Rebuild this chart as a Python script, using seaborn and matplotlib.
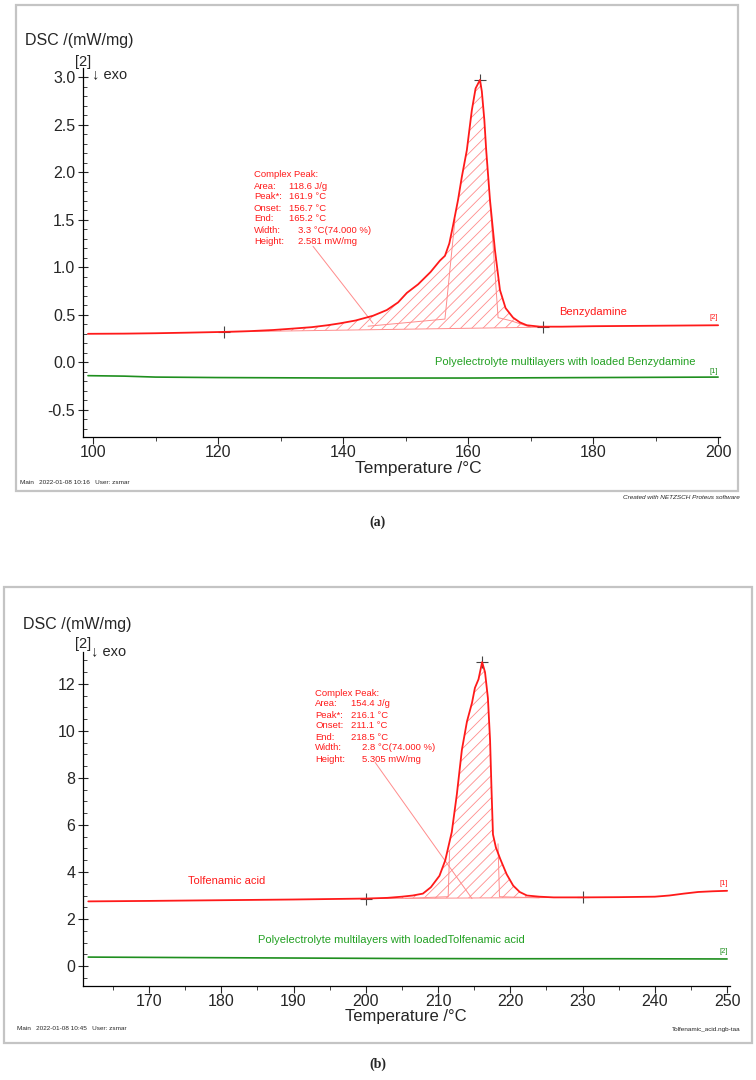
import numpy as np
import matplotlib.pyplot as plt
import matplotlib.ticker as mticker
from matplotlib.patches import Rectangle
import seaborn as sns

# ---- (a) Benzydamine ----
temp_a = [99.2, 105, 110, 115, 121, 125, 128.8, 132, 135, 137.5, 139.5, 142, 144.8, 147, 148.8,
          150.2, 152, 154, 155.5, 156.3, 157, 157.6, 158.4, 159, 159.8, 160.6, 161.2, 161.9,
          162.2, 162.6, 162.9, 163.5, 164.3, 165.1, 166, 167.2, 168.3, 169.4, 171.5, 175, 180,
          190, 200]
dsc_benzy = [0.30, 0.302, 0.306, 0.312, 0.32, 0.328, 0.34, 0.355, 0.37, 0.39, 0.41, 0.44, 0.49,
             0.55, 0.63, 0.73, 0.82, 0.95, 1.07, 1.12, 1.25, 1.44, 1.71, 1.95, 2.23, 2.65, 2.88,
             2.97, 2.85, 2.55, 2.23, 1.71, 1.18, 0.76, 0.57, 0.47, 0.42, 0.39, 0.375, 0.375, 0.38,
             0.385, 0.39]
temp_a_pem = [99.2, 105, 110, 120, 140, 160, 180, 200]
dsc_pem_benzy = [-0.14, -0.145, -0.155, -0.16, -0.165, -0.165, -0.16, -0.155]

base_a_t = [121, 172]
base_a_v = [0.32, 0.37]
mark_a_t = [121, 161.9, 172]
mark_a_v = [0.32, 2.97, 0.37]
part_a_left = ([144, 156.3, 157.9], [0.38, 0.455, 1.5])
part_a_right = ([163.5, 164.8, 166.7, 170], [1.71, 0.47, 0.44, 0.37])
leader_a = ([135.2, 144.8], [1.22, 0.41])
keys_a = ['Area:', 'Peak*:', 'Onset:', 'End:', 'Width:', 'Height:']
vals_a = ['118.6 J/g', '161.9 °C', '156.7 °C', '165.2 °C', '3.3 °C(74.000 %)', '2.581 mW/mg']

# ---- (b) Tolfenamic acid ----
temp_b = [161.6, 170, 180, 190, 200, 203, 205, 206.5, 207.9, 209, 210.2, 211, 211.9, 212.6, 213.3,
          214, 214.7, 215.1, 215.6, 216.1, 216.5, 216.9, 217.2, 217.4, 217.6, 218, 218.6, 219.5,
          220.4, 221.3, 222.3, 224, 226, 230, 235, 240, 242, 244, 246, 248, 250]
dsc_tolf = [2.75, 2.77, 2.8, 2.83, 2.87, 2.9, 2.95, 3.0, 3.08, 3.35, 3.84, 4.5, 5.7, 7.3, 9.2,
            10.4, 11.2, 11.83, 12.2, 12.93, 12.5, 11.4, 9.6, 7.5, 5.6, 5.05, 4.56, 3.9, 3.42,
            3.15, 3.0, 2.95, 2.92, 2.92, 2.93, 2.95, 3.0, 3.08, 3.15, 3.18, 3.2]
temp_b_pem = [161.6, 175, 190, 205, 220, 235, 250]
dsc_pem_tolf = [0.38, 0.36, 0.34, 0.32, 0.31, 0.31, 0.3]

base_b_t = [200, 230]
base_b_v = [2.87, 2.92]
mark_b_t = [200, 216.1, 230]
mark_b_v = [2.87, 12.93, 2.92]
part_b_left = ([205.5, 211.4, 211.6], [2.88, 2.95, 4.9])
part_b_right = ([218.3, 218.5, 224], [5.2, 2.95, 2.9])
leader_b = ([201.3, 214.7], [8.66, 2.87])
keys_b = ['Area:', 'Peak*:', 'Onset:', 'End:', 'Width:', 'Height:']
vals_b = ['154.4 J/g', '216.1 °C', '211.1 °C', '218.5 °C', '2.8 °C(74.000 %)', '5.305 mW/mg']

RED = '#ff1a1a'
LRED = '#ff8c8c'
GREEN = '#1f8f1f'
GTEXT = '#22a022'

sns.set_style('ticks')
plt.rcParams['font.family'] = ['Liberation Sans', 'DejaVu Sans']
plt.rcParams['axes.unicode_minus'] = False
plt.rcParams['hatch.linewidth'] = 0.6

W, H = 756, 1080
fig = plt.figure(figsize=(7.56, 10.8), dpi=100)


def fx(px):
    return px / W


def fy(py):
    return 1 - py / H


def axes_at(left, top, right, bottom):
    return fig.add_axes([fx(left), fy(bottom), fx(right) - fx(left), fy(top) - fy(bottom)])


def style_axes(ax, xmaj, xmin, ymaj, ymin):
    sns.despine(ax=ax)
    for s in ['left', 'bottom']:
        ax.spines[s].set_linewidth(0.9)
        ax.spines[s].set_color('black')
    ax.xaxis.set_major_locator(mticker.MultipleLocator(xmaj))
    ax.xaxis.set_minor_locator(mticker.MultipleLocator(xmin))
    ax.yaxis.set_major_locator(mticker.MultipleLocator(ymaj))
    ax.yaxis.set_minor_locator(mticker.MultipleLocator(ymin))
    ax.tick_params(axis='x', which='major', direction='out', length=5, width=0.8, labelsize=11.5, pad=1)
    ax.tick_params(axis='x', which='minor', direction='out', length=3, width=0.6)
    ax.tick_params(axis='y', which='major', direction='inout', length=7, width=0.8, labelsize=11.5, pad=2)
    ax.tick_params(axis='y', which='minor', direction='in', length=3, width=0.6)
    ax.set_xlabel('')
    ax.set_ylabel('')
    ax.patch.set_alpha(0)


def draw_peak(ax, t, v, bt, bv, mt, mv, pl, pr, lead):
    t = np.array(t)
    v = np.array(v)
    sel = (t >= bt[0]) & (t <= bt[1])
    tt = np.concatenate([[bt[0]], t[sel], [bt[1]]])
    vv = np.concatenate([[bv[0]], v[sel], [bv[1]]])
    base = np.interp(tt, bt, bv)
    ax.fill_between(tt, vv, base, facecolor='none', edgecolor=LRED, hatch='///', linewidth=0)
    ax.plot(bt, bv, color=LRED, lw=0.7)
    ax.plot(pl[0], pl[1], color=LRED, lw=0.7)
    ax.plot(pr[0], pr[1], color=LRED, lw=0.7)
    ax.plot(lead[0], lead[1], color=LRED, lw=0.7)
    ax.plot(mt, mv, linestyle='none', marker='+', markersize=8, color='#444444', markeredgewidth=0.8)


def annotation(x0, y0, keys, vals, dx1, dx2, step):
    kw = dict(fontsize=6.8, color=RED, va='center', ha='left')
    fig.text(fx(x0), fy(y0), 'Complex Peak:', **kw)
    for i, (k, v) in enumerate(zip(keys, vals)):
        yy = y0 + step * (i + 1)
        fig.text(fx(x0), fy(yy), k, **kw)
        fig.text(fx(x0 + (dx2 if i >= 4 else dx1)), fy(yy), v, **kw)


def frame(l, t, r, b):
    fig.add_artist(Rectangle((fx(l), fy(b)), fx(r) - fx(l), fy(t) - fy(b), transform=fig.transFigure,
                             fill=False, edgecolor='#c4c4c4', lw=1.6))


# ================= panel (a) =================
frame(16, 5, 738, 491)
ax = axes_at(83, 68, 720, 437)
draw_peak(ax, temp_a, dsc_benzy, base_a_t, base_a_v, mark_a_t, mark_a_v,
          part_a_left, part_a_right, leader_a)
sns.lineplot(x=temp_a, y=dsc_benzy, ax=ax, color=RED, linewidth=1.3, sort=False, estimator=None)
sns.lineplot(x=temp_a_pem, y=dsc_pem_benzy, ax=ax, color=GREEN, linewidth=1.2, sort=False, estimator=None)
ax.set_xlim(98.4, 200.3)
ax.set_ylim(-0.785, 3.095)
style_axes(ax, 20, 10, 0.5, 0.1)
ax.text(180, 0.53, 'Benzydamine', color=RED, fontsize=8, ha='center', va='center')
ax.text(175.5, 0.0, 'Polyelectrolyte multilayers with loaded Benzydamine', color=GTEXT,
        fontsize=8, ha='center', va='center')
ax.text(199.3, 0.43, '[2]', color=RED, fontsize=5.5, ha='center', va='bottom')
ax.text(199.3, -0.13, '[1]', color=GREEN, fontsize=5.5, ha='center', va='bottom')

fig.text(fx(25), fy(40), 'DSC /(mW/mg)', fontsize=11.5, ha='left', va='center')
fig.text(fx(83.5), fy(62), '[2]', fontsize=10.5, ha='center', va='center')
fig.text(fx(92), fy(74), '↓ exo', fontsize=10.5, ha='left', va='center')
fig.text(fx(418), fy(468), 'Temperature /°C', fontsize=12.5, ha='center', va='center')
annotation(254, 175, keys_a, vals_a, 35, 44, 11)
fig.text(fx(20), fy(482), 'Main   2022-01-08 10:16   User: zsmar', fontsize=4.6, ha='left', va='center')
fig.text(fx(740), fy(497), 'Created with NETZSCH Proteus software', fontsize=4.6, style='italic',
         ha='right', va='center')
fig.text(fx(378), fy(522), '(a)', fontsize=10, fontweight='bold', family='Liberation Serif',
         ha='center', va='center')

# ================= panel (b) =================
frame(4, 587, 752, 1043)
bx = axes_at(83, 652, 730, 986)
draw_peak(bx, temp_b, dsc_tolf, base_b_t, base_b_v, mark_b_t, mark_b_v,
          part_b_left, part_b_right, leader_b)
sns.lineplot(x=temp_b, y=dsc_tolf, ax=bx, color=RED, linewidth=1.3, sort=False, estimator=None)
sns.lineplot(x=temp_b_pem, y=dsc_pem_tolf, ax=bx, color=GREEN, linewidth=1.2, sort=False, estimator=None)
bx.set_xlim(160.87, 250.4)
bx.set_ylim(-0.85, 13.36)
style_axes(bx, 10, 5, 2, 0.5)
bx.text(180.8, 3.6, 'Tolfenamic acid', color=RED, fontsize=8, ha='center', va='center')
bx.text(203.5, 1.1, 'Polyelectrolyte multilayers with loadedTolfenamic acid', color=GTEXT,
        fontsize=8, ha='center', va='center')
bx.text(249.5, 3.35, '[1]', color=RED, fontsize=5.5, ha='center', va='bottom')
bx.text(249.5, 0.45, '[2]', color=GREEN, fontsize=5.5, ha='center', va='bottom')

fig.text(fx(23), fy(624), 'DSC /(mW/mg)', fontsize=11.5, ha='left', va='center')
fig.text(fx(83), fy(644), '[2]', fontsize=10.5, ha='center', va='center')
fig.text(fx(91), fy(651), '↓ exo', fontsize=10.5, ha='left', va='center')
fig.text(fx(406), fy(1016), 'Temperature /°C', fontsize=12, ha='center', va='center')
annotation(315, 693, keys_b, vals_b, 36, 47, 11)
fig.text(fx(17), fy(1029), 'Main   2022-01-08 10:45   User: zsmar', fontsize=4.6, ha='left', va='center')
fig.text(fx(741), fy(1029), 'Tolfenamic_acid.ngb-taa', fontsize=4.6, ha='right', va='center')
fig.text(fx(378), fy(1064), '(b)', fontsize=10, fontweight='bold', family='Liberation Serif',
         ha='center', va='center')

fig.savefig('out.png', dpi=100)
